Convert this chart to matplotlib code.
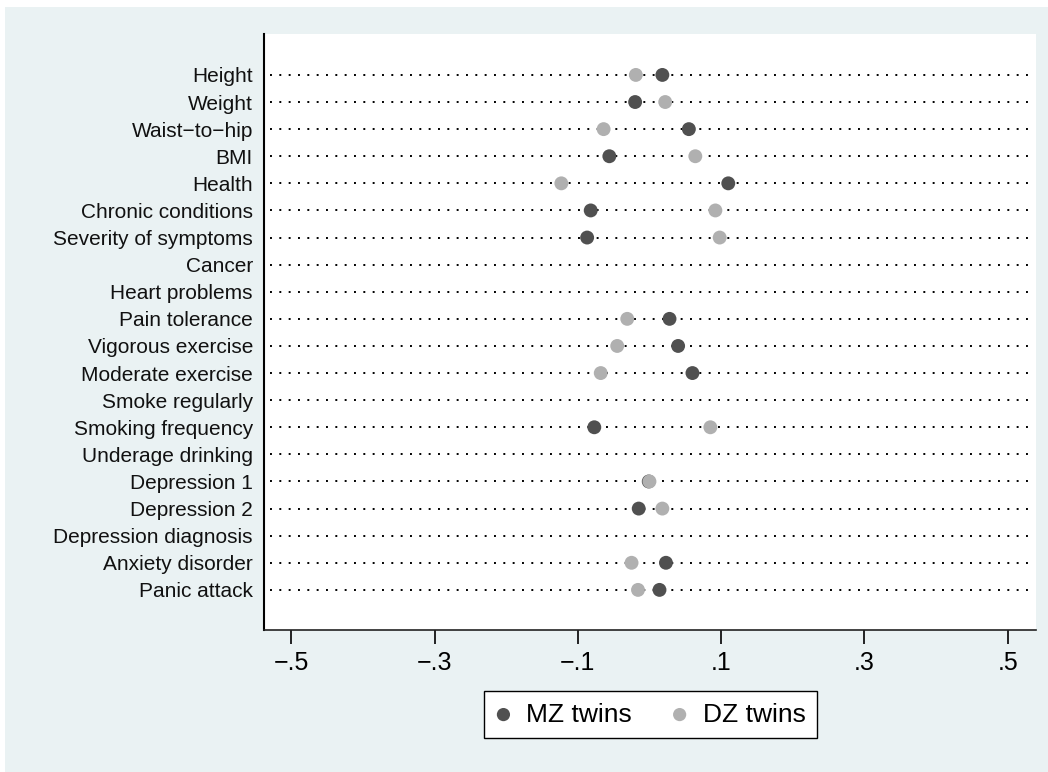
import matplotlib.pyplot as plt
from matplotlib.patches import Rectangle

plt.rcParams['font.family'] = ['Liberation Sans', 'DejaVu Sans']

# rows, top to bottom
labels = ["Height", "Weight", "Waist\u2212to\u2212hip", "BMI", "Health",
          "Chronic conditions", "Severity of symptoms", "Cancer",
          "Heart problems", "Pain tolerance", "Vigorous exercise",
          "Moderate exercise", "Smoke regularly", "Smoking frequency",
          "Underage drinking", "Depression 1", "Depression 2",
          "Depression diagnosis", "Anxiety disorder", "Panic attack"]

# None = no estimate shown
mz = [0.018, -0.020, 0.055, -0.056, 0.110, -0.082, -0.087, None,
      None, 0.028, 0.040, 0.060, None, -0.077,
      None, -0.001, -0.015, None, 0.023, 0.014]
dz = [-0.019, 0.022, -0.064, 0.064, -0.123, 0.092, 0.098, None,
      None, -0.031, -0.045, -0.068, None, 0.085,
      None, 0.000, 0.018, None, -0.025, -0.016]

xticks = [-0.5, -0.3, -0.1, 0.1, 0.3, 0.5]
xticklabels = ["\u2212.5", "\u2212.3", "\u2212.1", ".1", ".3", ".5"]

bg = "#EAF2F3"
dark = "#505050"
light = "#B0B0B0"

W, H = 1048, 772
fig = plt.figure(figsize=(W / 100, H / 100), dpi=100, facecolor="white")
fig.patches.append(Rectangle((5 / W, 0), 1 - 5 / W, 1 - 7 / H,
                             transform=fig.transFigure, facecolor=bg,
                             edgecolor="none", zorder=-10))

ax = fig.add_axes([264 / W, 1 - 630 / H, (1036 - 264) / W, (630 - 34) / H])
ax.set_facecolor("white")

rows = list(range(len(labels)))
for r in rows:
    ax.axhline(r, xmin=0.008, xmax=0.99, color="black", lw=1.4,
               linestyle=(0, (1, 3.8)), zorder=1)

mz_y = [r for r, v in zip(rows, mz) if v is not None]
mz_x = [v for v in mz if v is not None]
dz_y = [r for r, v in zip(rows, dz) if v is not None]
dz_x = [v for v in dz if v is not None]

ax.scatter(mz_x, mz_y, s=100, color=dark, edgecolors="none", zorder=3,
           label="MZ twins")
ax.scatter(dz_x, dz_y, s=100, color=light, edgecolors="none", zorder=4,
           label="DZ twins")

ax.set_xlim(-0.538, 0.5395)
ax.set_ylim(20.48, -1.51)
ax.set_yticks(rows)
ax.set_yticklabels(labels, fontsize=15, color="#111111")
ax.tick_params(axis="y", length=0, pad=8)
ax.set_xticks(xticks)
ax.set_xticklabels(xticklabels, fontsize=18)
ax.tick_params(axis="x", length=10, width=1.2, pad=5, direction="out")

for s in ["top", "right"]:
    ax.spines[s].set_visible(False)
ax.spines["left"].set_linewidth(1.5)
ax.spines["bottom"].set_linewidth(1.2)
ax.spines["bottom"].set_color("#222222")

leg = fig.legend(loc="center", bbox_to_anchor=(650.5 / W, 1 - 714.5 / H),
                 ncol=2, fontsize=19, frameon=True, fancybox=False,
                 edgecolor="black", framealpha=1, handlelength=0.6,
                 handletextpad=0.57, columnspacing=1.5, borderpad=0.45,
                 scatterpoints=1, markerscale=0.95)
leg.get_frame().set_linewidth(1.0)

fig.savefig("out.png", dpi=100, facecolor="white")
